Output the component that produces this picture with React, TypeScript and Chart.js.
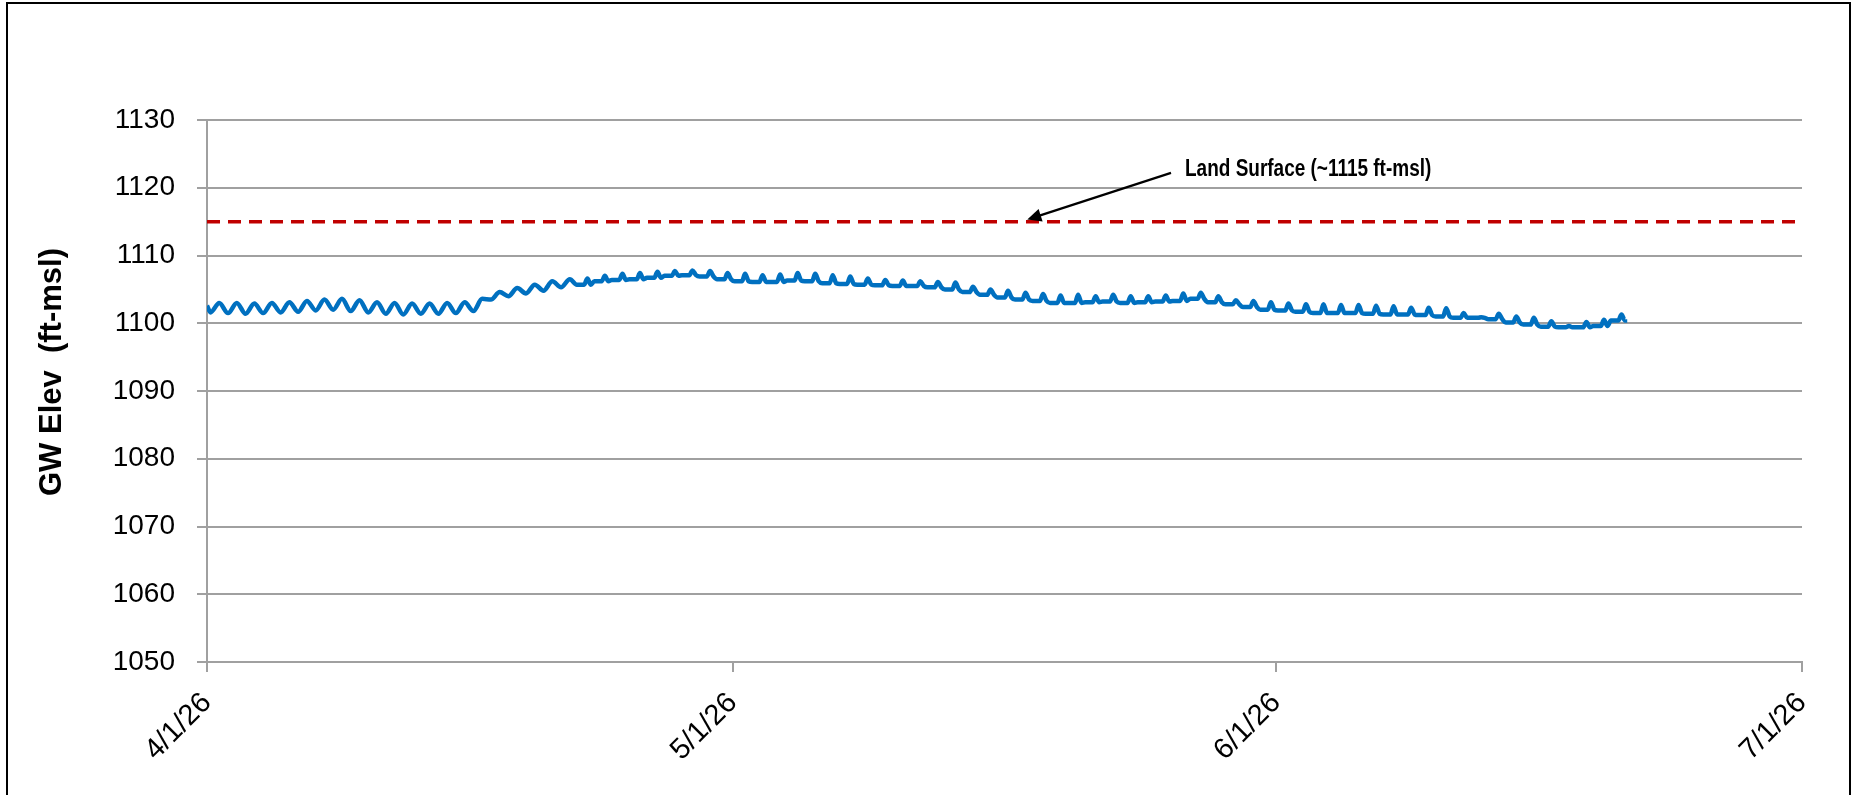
import React, { useEffect, useRef } from "react";
import { Chart, registerables } from "chart.js";

Chart.register(...registerables);

// ---------- data ----------
const xTickDays = [0, 30, 61, 91]; // days since 4/1/26
const xTickLabels = ["4/1/26", "5/1/26", "6/1/26", "7/1/26"];
const yMin = 1050;
const yMax = 1130;
const yStep = 10;
const yTitle = "GW Elev  (ft-msl)";

const landSurface = 1115;
const landSurfaceLabel = "Land Surface (~1115 ft-msl)";

// number of leading days where the daily cycle is a smooth wave (afterwards: flat base + short bump)
const waveDays = 21;
const firstValue = 1102.6;

// daily low (base) and daily high (peak) groundwater elevation, day 0 = 4/1/26
const dailyLow = [
  1101.6, 1101.5, 1101.4, 1101.5, 1101.6, 1101.7, 1101.9, 1102.0, 1101.8, 1101.6,
  1101.4, 1101.3, 1101.4, 1101.4, 1101.5, 1101.8, 1103.5, 1104.0, 1104.4, 1104.8,
  1105.3, 1105.7, 1106.2, 1106.4, 1106.5, 1106.7, 1107.0, 1107.1, 1106.9, 1106.5,
  1106.2, 1106.1, 1106.1, 1106.3, 1106.2, 1105.9, 1105.8, 1105.7, 1105.6, 1105.5,
  1105.5, 1105.3, 1105.0, 1104.6, 1104.2, 1103.8, 1103.5, 1103.3, 1103.0, 1103.0,
  1103.1, 1103.2, 1103.0, 1103.1, 1103.2, 1103.3, 1103.6, 1103.1, 1102.8, 1102.4,
  1102.0, 1101.9, 1101.7, 1101.5, 1101.5, 1101.5, 1101.4, 1101.3, 1101.3, 1101.2,
  1101.0, 1100.8, 1100.8, 1100.6, 1100.1, 1099.8, 1099.5, 1099.4, 1099.4, 1099.6,
  1100.4,
];
const dailyHigh = [
  1103.0, 1103.0, 1102.9, 1103.0, 1103.1, 1103.3, 1103.5, 1103.6, 1103.4, 1103.1,
  1103.0, 1102.9, 1102.9, 1103.0, 1103.1, 1103.6, 1104.6, 1105.2, 1105.7, 1106.2,
  1106.5, 1106.6, 1107.0, 1107.3, 1107.4, 1107.6, 1107.7, 1107.8, 1107.7, 1107.4,
  1107.3, 1107.1, 1107.2, 1107.4, 1107.3, 1107.1, 1106.9, 1106.6, 1106.4, 1106.3,
  1106.2, 1106.1, 1106.0, 1105.4, 1105.0, 1104.8, 1104.5, 1104.3, 1104.1, 1104.2,
  1104.0, 1104.2, 1104.0, 1104.0, 1104.1, 1104.4, 1104.5, 1104.0, 1103.4, 1103.3,
  1103.1, 1102.9, 1102.8, 1102.8, 1102.7, 1102.7, 1102.6, 1102.5, 1102.3, 1102.3,
  1102.2, 1101.5, 1100.9, 1101.4, 1101.0, 1100.8, 1100.3, 1099.6, 1100.2, 1100.5,
  1101.3,
];
const lastDay = 80.9;
const lastValue = 1100.6;

// annotation (arrow from text to the land-surface line)
const arrowTail = { day: 55.0, value: 1122.2 };
const arrowHead = { day: 46.8, value: 1115.3 };
const labelAnchor = { day: 55.8, value: 1122.6 };

// ---------- build series ----------
const gwPoints: { x: number; y: number }[] = [{ x: 0, y: firstValue }];
dailyLow.forEach((lo, d) => {
  const hi = dailyHigh[d];
  if (d < waveDays) {
    gwPoints.push({ x: d + 0.2, y: lo }, { x: d + 0.7, y: hi });
  } else {
    gwPoints.push(
      { x: d + 0.1, y: lo },
      { x: d + 0.52, y: lo },
      { x: d + 0.7, y: hi },
      { x: d + 0.9, y: lo }
    );
  }
});
gwPoints.push({ x: lastDay, y: lastValue });

const landPoints = [
  { x: xTickDays[0], y: landSurface },
  { x: xTickDays[xTickDays.length - 1], y: landSurface },
];

const FONT = "'Liberation Sans', Arial, sans-serif";
const GRID = "#a0a0a0";

const overlayPlugin = {
  id: "overlay",
  afterDraw(chart: any) {
    const { ctx, chartArea, scales } = chart;
    const xs = scales.x;
    const ys = scales.y;
    ctx.save();
    // y axis title
    ctx.translate(52, (chartArea.top + chartArea.bottom) / 2 - 19);
    ctx.rotate(-Math.PI / 2);
    ctx.font = `bold 31px ${FONT}`;
    ctx.fillStyle = "#000";
    ctx.textAlign = "center";
    ctx.textBaseline = "middle";
    ctx.fillText(yTitle, 0, 0);
    ctx.restore();

    // arrow
    const tx = xs.getPixelForValue(arrowTail.day);
    const ty = ys.getPixelForValue(arrowTail.value);
    const hx = xs.getPixelForValue(arrowHead.day);
    const hy = ys.getPixelForValue(arrowHead.value);
    const ang = Math.atan2(hy - ty, hx - tx);
    const headLen = 14;
    const headW = 6.5;
    ctx.save();
    ctx.strokeStyle = "#000";
    ctx.fillStyle = "#000";
    ctx.lineWidth = 2.2;
    ctx.beginPath();
    ctx.moveTo(tx, ty);
    ctx.lineTo(hx - Math.cos(ang) * headLen * 0.8, hy - Math.sin(ang) * headLen * 0.8);
    ctx.stroke();
    ctx.beginPath();
    ctx.moveTo(hx, hy);
    ctx.lineTo(
      hx - Math.cos(ang) * headLen - Math.sin(ang) * headW,
      hy - Math.sin(ang) * headLen + Math.cos(ang) * headW
    );
    ctx.lineTo(
      hx - Math.cos(ang) * headLen + Math.sin(ang) * headW,
      hy - Math.sin(ang) * headLen - Math.cos(ang) * headW
    );
    ctx.closePath();
    ctx.fill();
    ctx.restore();

    // label
    const lx = xs.getPixelForValue(labelAnchor.day);
    const ly = ys.getPixelForValue(labelAnchor.value);
    ctx.save();
    ctx.translate(lx, ly);
    ctx.scale(0.825, 1);
    ctx.font = `bold 23px ${FONT}`;
    ctx.fillStyle = "#000";
    ctx.textAlign = "left";
    ctx.textBaseline = "middle";
    ctx.fillText(landSurfaceLabel, 0, 0);
    ctx.restore();
  },
};

export default function App() {
  const ref = useRef<HTMLCanvasElement | null>(null);
  useEffect(() => {
    if (!ref.current) return;
    Chart.defaults.font.family = FONT;
    const chart = new Chart(ref.current, {
      type: "line",
      data: {
        datasets: [
          {
            data: landPoints,
            borderColor: "#C00000",
            borderWidth: 3.5,
            borderDash: [13, 8],
            pointRadius: 0,
            fill: false,
            order: 2,
          },
          {
            data: gwPoints,
            borderColor: "#0070C0",
            borderWidth: 4.5,
            pointRadius: 0,
            fill: false,
            cubicInterpolationMode: "monotone",
            order: 1,
          },
        ],
      },
      options: {
        animation: false,
        responsive: false,
        events: [],
        parsing: false as any,
        layout: { padding: { left: 0, top: 120, right: 53, bottom: 0 } },
        plugins: { legend: { display: false }, tooltip: { enabled: false } },
        scales: {
          x: {
            type: "linear",
            min: xTickDays[0],
            max: xTickDays[xTickDays.length - 1],
            afterBuildTicks: (scale: any) => {
              scale.ticks = xTickDays.map((v) => ({ value: v }));
            },
            afterFit: (scale: any) => {
              scale.height = 133;
            },
            ticks: {
              autoSkip: false,
              minRotation: 45,
              maxRotation: 45,
              padding: 14,
              color: "#000",
              font: { size: 29, family: FONT },
              callback: (_v: any, i: number) => xTickLabels[i],
            },
            grid: {
              drawOnChartArea: false,
              drawTicks: true,
              tickLength: 10,
              color: GRID,
              lineWidth: 2,
            },
            border: { display: true, color: GRID, width: 2 },
          },
          y: {
            min: yMin,
            max: yMax,
            afterFit: (scale: any) => {
              scale.width = 207;
            },
            ticks: {
              stepSize: yStep,
              padding: 22,
              color: "#000",
              font: { size: 28, family: FONT },
              callback: (v: any) => String(v),
            },
            grid: {
              drawOnChartArea: true,
              drawTicks: true,
              tickLength: 10,
              color: GRID,
              lineWidth: 2,
            },
            border: { display: true, color: GRID, width: 2 },
          },
        },
      },
      plugins: [overlayPlugin],
    } as any);
    return () => chart.destroy();
  }, []);

  return (
    <div style={{ position: "fixed", left: 0, top: 0, width: 1855, height: 795, background: "#fff", overflow: "hidden" }}>
      <canvas ref={ref} width={1855} height={795} style={{ position: "absolute", left: 0, top: 0 }} />
      <div
        style={{
          position: "absolute",
          left: 6,
          top: 2,
          width: 1841,
          height: 900,
          border: "2px solid #000",
          pointerEvents: "none",
        }}
      />
    </div>
  );
}
